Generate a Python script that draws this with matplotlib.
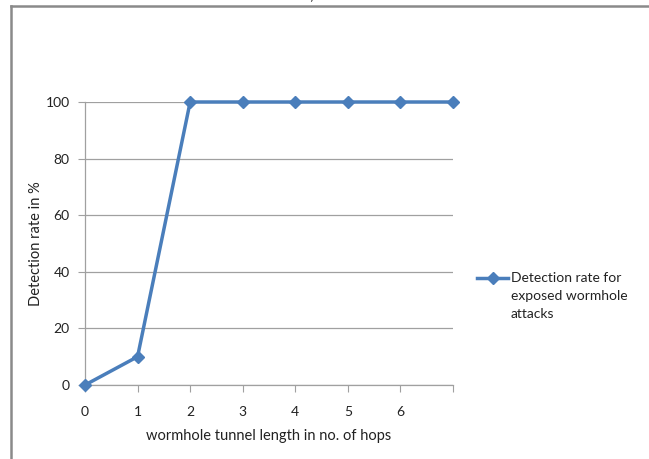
import matplotlib
matplotlib.use("Agg")
import matplotlib.pyplot as plt
from matplotlib.lines import Line2D

# tunnel length (hops) vs detection rate
hops = [0, 1, 2, 3, 4, 5, 6, 7]
detection = [0, 10, 100, 100, 100, 100, 100, 100]
tick_labels = ["0", "1", "2", "3", "4", "5", "6", ""]
y_ticks = [0, 20, 40, 60, 80, 100]
series_name = "Detection rate for\nexposed wormhole\nattacks"

blue = "#4a7ebb"
grid_col = "#a0a0a0"
text_col = "#222222"

plt.rcParams["font.family"] = ["Lato", "DejaVu Sans"]

W, H = 649, 459
fig = plt.figure(figsize=(W / 100, H / 100), dpi=100)
ax = fig.add_axes([85 / W, 1 - 385 / H, (453 - 85) / W, (385 - 102) / H])

ax.plot(hops, detection, color=blue, lw=2.5, marker="D", ms=6,
        markerfacecolor=blue, markeredgecolor=blue, clip_on=False, zorder=3)

ax.set_xlim(0, 7)
ax.set_ylim(0, 100)
ax.set_xticks(hops)
ax.set_xticklabels(tick_labels, fontsize=10, color=text_col)
ax.set_yticks(y_ticks)
ax.set_yticklabels([str(v) for v in y_ticks], fontsize=10, color=text_col)
ax.tick_params(axis="x", length=5, width=0.8, color=grid_col, pad=10, direction="out")
ax.tick_params(axis="y", length=5, width=0.8, color=grid_col, pad=6, direction="out")
ax.yaxis.grid(True, color=grid_col, lw=0.9)
ax.set_axisbelow(True)
for side in ["top", "right"]:
    ax.spines[side].set_visible(False)
for side in ["left", "bottom"]:
    ax.spines[side].set_color(grid_col)
    ax.spines[side].set_linewidth(0.9)

ax.set_xlabel("wormhole tunnel length in no. of hops", fontsize=10.5, color=text_col, labelpad=8)
ax.set_ylabel("Detection rate in %", fontsize=10.5, color=text_col, labelpad=2)

# legend key: line with a diamond next to the first text line
ly = 1 - 278 / H
fig.add_artist(Line2D([477 / W, 508 / W], [ly, ly], color=blue, lw=2.5,
                      transform=fig.transFigure))
fig.add_artist(Line2D([493 / W], [ly], color=blue, marker="D", ms=6,
                      transform=fig.transFigure))
fig.text(511 / W, 1 - 272 / H, series_name, fontsize=10, color=text_col, ha="left",
         va="top", linespacing=1.6)

# surrounding frame (top and left edges visible)
fig.add_artist(Line2D([11 / W, 1], [1 - 6 / H, 1 - 6 / H], color="#8a8a8a", lw=1.8,
                      transform=fig.transFigure))
fig.add_artist(Line2D([11 / W, 11 / W], [0, 1 - 6 / H], color="#8a8a8a", lw=1.8,
                      transform=fig.transFigure))
fig.text(268 / W, 1 + 4 / H, "attacks)", fontsize=10, ha="left", va="center", color="#444444")

fig.savefig("out.png", dpi=100)
